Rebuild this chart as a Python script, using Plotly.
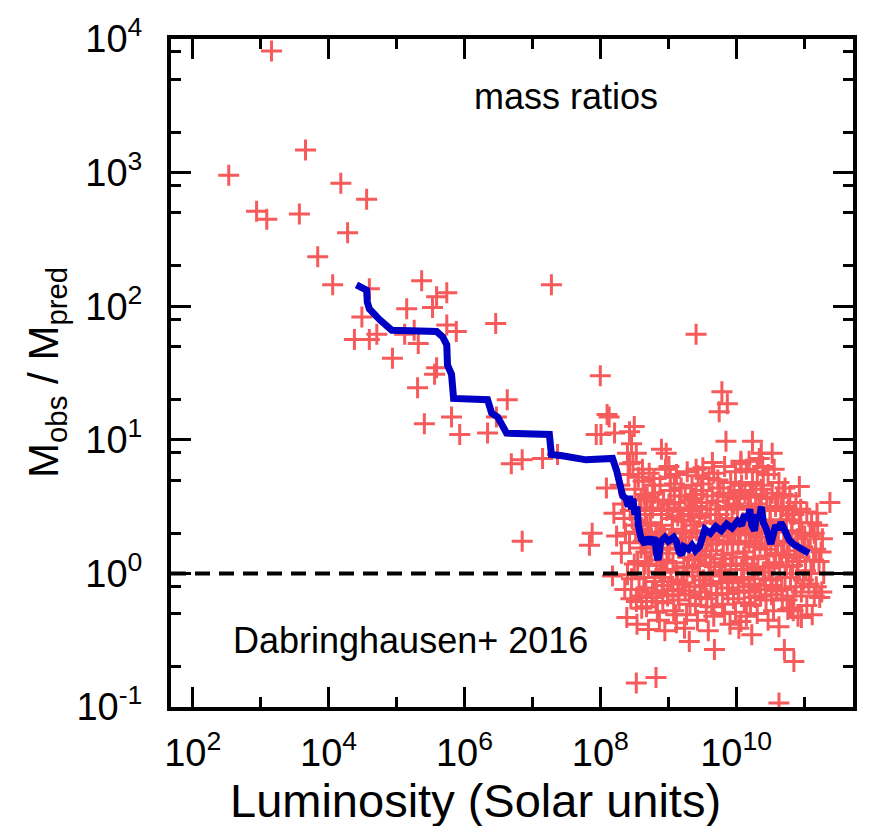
import numpy as np
import plotly.graph_objects as go

# Individual systems outside the dense galaxy cloud: (log10 L, log10 Mobs/Mpred)
sparse_points = [
    (3.16, 3.91), (2.53, 2.98), (3.66, 3.17), (4.18, 2.92), (4.56, 2.80),
    (2.94, 2.71), (3.09, 2.65), (3.57, 2.69), (4.28, 2.55), (3.84, 2.37),
    (4.06, 2.16), (5.37, 2.19), (5.74, 2.10), (5.59, 2.07), (7.28, 2.16),
    (4.60, 2.13), (5.15, 1.98), (5.53, 1.99), (4.49, 1.92), (6.46, 1.87),
    (4.71, 1.79), (4.60, 1.75), (4.38, 1.75), (5.12, 1.79), (5.26, 1.82),
    (5.32, 1.72), (5.74, 1.86), (5.88, 1.81), (4.94, 1.61), (5.59, 1.54),
    (5.56, 1.49), (5.31, 1.39), (6.63, 1.30), (5.81, 1.17), (5.41, 1.12),
    (5.93, 1.04), (6.34, 1.05), (6.47, 1.17), (6.69, 0.82), (6.85, 0.85),
    (7.15, 0.86), (7.37, 0.89), (6.85, 0.24), (7.84, 0.21), (7.88, 0.30),
    (7.94, 1.04), (8.00, 1.48), (9.41, 1.79), (8.10, 1.19), (8.09, 0.64),
    (8.53, -0.82), (8.82, -0.78), (10.63, -0.97), (10.71, -0.57), (10.85, -0.66),
    (9.68, -0.57), (9.31, -0.51), (9.12, -0.37), (9.79, 1.36), (9.87, 1.27),
    (9.75, 1.21), (9.85, 0.99), (10.24, 0.99), (10.37, 0.90), (10.53, 0.90),
    (10.93, 0.65), (11.38, 0.53), (8.13, 1.17), (8.21, 1.05), (8.01, 1.04),
    (8.50, 1.10), (8.43, 1.06), (8.46, 0.97), (8.40, 0.90), (8.53, 0.90),
    (8.90, 0.93), (8.97, 0.90), (10.07, 0.84), (10.19, 0.84), (10.34, 0.86),
    (9.65, 0.83), (9.41, 0.78), (9.01, 0.80), (8.62, 0.78), (8.43, 0.82),
    (10.07, -0.36), (10.04, -0.41), (10.96, -0.33), (10.80, -0.26),
    (8.20, 0.45), (8.24, 0.28), (8.18, -0.02), (11.19, 0.45), (11.15, 0.30),
]

# Dense cloud of galaxies between 10^8 and 10^11.4 L_sun
cloud_points = [
    (8.29, 0.66), (8.35, 0.41), (8.31, 0.15), (8.36, -0.12), (8.33, 0.52),
    (8.41, 0.74), (8.44, 0.47), (8.37, 0.30), (8.43, 0.23), (8.40, -0.01), (8.45, -0.19), (8.39, -0.33),
    (8.48, 0.83), (8.51, 0.63), (8.47, 0.41), (8.52, 0.31), (8.50, 0.07), (8.46, -0.04), (8.53, -0.21),
    (8.56, 0.72), (8.58, 0.49), (8.54, 0.36), (8.60, 0.19), (8.55, 0.09), (8.57, -0.12), (8.61, -0.26), (8.54, -0.38),
    (8.63, 0.69), (8.66, 0.44), (8.62, 0.33), (8.67, 0.16), (8.64, -0.03), (8.61, -0.17), (8.68, -0.25), (8.65, 0.59), (8.63, 0.24),
    (8.72, 0.75), (8.69, 0.57), (8.74, 0.38), (8.70, 0.29), (8.75, 0.15), (8.71, 0.06), (8.67, -0.11), (8.76, -0.18), (8.71, -0.42),
    (8.80, 0.60), (8.77, 0.49), (8.82, 0.31), (8.78, 0.22), (8.83, 0.06), (8.80, -0.06), (8.77, -0.14), (8.84, -0.29), (8.79, 0.71),
    (8.88, 0.66), (8.85, 0.54), (8.90, 0.36), (8.86, 0.27), (8.91, 0.10), (8.88, 0.01), (8.83, -0.15), (8.92, -0.22), (8.87, -0.35),
    (8.96, 0.78), (8.93, 0.55), (8.98, 0.47), (8.94, 0.29), (8.99, 0.18), (8.95, 0.03), (8.91, -0.09), (8.99, -0.17), (8.95, -0.43),
    (9.03, 0.62), (9.01, 0.52), (9.06, 0.33), (9.02, 0.24), (9.07, 0.08), (9.04, -0.06), (8.99, -0.13), (9.08, -0.28), (9.03, 0.72),
    (9.12, 0.74), (9.09, 0.53), (9.14, 0.43), (9.10, 0.26), (9.15, 0.19), (9.12, 0.01), (9.07, -0.12), (9.16, -0.20), (9.11, -0.31),
    (9.19, 0.64), (9.17, 0.49), (9.22, 0.31), (9.18, 0.22), (9.23, 0.05), (9.20, -0.08), (9.15, -0.16), (9.24, -0.41), (9.20, 0.40),
    (9.28, 0.76), (9.25, 0.58), (9.30, 0.47), (9.26, 0.30), (9.31, 0.21), (9.28, 0.04), (9.23, -0.07), (9.32, -0.23), (9.27, -0.31),
    (9.35, 0.66), (9.33, 0.55), (9.38, 0.36), (9.34, 0.27), (9.39, 0.10), (9.36, 0.01), (9.31, -0.16), (9.40, -0.24), (9.36, 0.47),
    (9.44, 0.73), (9.41, 0.59), (9.46, 0.42), (9.42, 0.32), (9.47, 0.14), (9.44, 0.06), (9.39, -0.10), (9.48, -0.18), (9.43, -0.35),
    (9.51, 0.67), (9.49, 0.48), (9.54, 0.38), (9.50, 0.21), (9.55, 0.12), (9.52, -0.05), (9.47, -0.14), (9.56, -0.29), (9.51, 0.79),
    (9.60, 0.71), (9.57, 0.53), (9.62, 0.44), (9.58, 0.26), (9.63, 0.17), (9.60, 0.00), (9.55, -0.09), (9.64, -0.25), (9.59, -0.43),
    (9.67, 0.75), (9.65, 0.58), (9.70, 0.48), (9.66, 0.31), (9.71, 0.22), (9.68, 0.05), (9.63, -0.08), (9.72, -0.16), (9.67, -0.32),
    (9.76, 0.64), (9.73, 0.54), (9.78, 0.37), (9.74, 0.28), (9.79, 0.11), (9.76, 0.02), (9.71, -0.15), (9.80, -0.23), (9.75, 0.44),
    (9.83, 0.80), (9.81, 0.60), (9.86, 0.50), (9.82, 0.33), (9.87, 0.24), (9.84, 0.07), (9.79, -0.06), (9.88, -0.15), (9.83, -0.30),
    (9.92, 0.68), (9.89, 0.58), (9.94, 0.41), (9.90, 0.32), (9.95, 0.15), (9.92, 0.06), (9.87, -0.11), (9.96, -0.19), (9.91, -0.38),
    (9.99, 0.76), (9.97, 0.58), (10.02, 0.48), (9.98, 0.31), (10.03, 0.22), (10.00, 0.06), (9.95, -0.07), (10.04, -0.13), (9.99, -0.29),
    (10.08, 0.66), (10.05, 0.56), (10.10, 0.38), (10.06, 0.29), (10.11, 0.12), (10.08, 0.03), (10.03, -0.14), (10.12, -0.22), (10.07, 0.82),
    (10.15, 0.78), (10.13, 0.60), (10.18, 0.50), (10.14, 0.33), (10.19, 0.24), (10.16, 0.07), (10.11, -0.05), (10.20, -0.14), (10.15, -0.32),
    (10.24, 0.68), (10.21, 0.59), (10.26, 0.42), (10.22, 0.29), (10.27, 0.20), (10.24, 0.03), (10.19, -0.10), (10.28, -0.18), (10.23, -0.46),
    (10.31, 0.76), (10.29, 0.58), (10.34, 0.48), (10.30, 0.31), (10.35, 0.22), (10.32, 0.05), (10.27, -0.08), (10.36, -0.17), (10.31, -0.30),
    (10.40, 0.66), (10.37, 0.57), (10.42, 0.40), (10.38, 0.27), (10.43, 0.18), (10.40, 0.01), (10.35, -0.12), (10.44, -0.20), (10.39, 0.80),
    (10.47, 0.74), (10.45, 0.56), (10.50, 0.47), (10.46, 0.30), (10.51, 0.21), (10.48, 0.04), (10.43, -0.09), (10.52, -0.16), (10.47, -0.35),
    (10.56, 0.78), (10.53, 0.60), (10.58, 0.50), (10.54, 0.33), (10.59, 0.24), (10.56, 0.08), (10.51, -0.05), (10.60, -0.13), (10.55, -0.28),
    (10.63, 0.68), (10.61, 0.57), (10.66, 0.40), (10.62, 0.31), (10.67, 0.14), (10.64, 0.06), (10.59, -0.11), (10.68, -0.19), (10.63, -0.40),
    (10.72, 0.64), (10.69, 0.50), (10.74, 0.40), (10.70, 0.23), (10.75, 0.14), (10.72, -0.03), (10.67, -0.12), (10.76, -0.27),
    (10.79, 0.58), (10.77, 0.48), (10.82, 0.32), (10.78, 0.23), (10.83, 0.06), (10.80, -0.03), (10.75, -0.20), (10.84, -0.28),
    (10.88, 0.53), (10.85, 0.44), (10.90, 0.26), (10.86, 0.17), (10.91, 0.00), (10.88, -0.10), (10.83, -0.26),
    (10.95, 0.48), (10.93, 0.38), (10.98, 0.20), (10.94, 0.12), (10.99, -0.05), (10.96, -0.14), (10.91, -0.32),
    (11.04, 0.46), (11.01, 0.28), (11.06, 0.18), (11.02, 0.02), (11.07, -0.08), (11.04, -0.24),
    (11.11, 0.38), (11.09, 0.28), (11.14, 0.10), (11.10, 0.00), (11.15, -0.17), (11.12, -0.31),
    (11.20, 0.36), (11.17, 0.18), (11.22, 0.09), (11.18, -0.10), (11.23, -0.18),
    (11.27, 0.26), (11.25, 0.16), (11.29, 0.00), (11.26, -0.14),
    (8.58, 0.30), (8.74, 0.47), (8.90, 0.44), (9.06, 0.41), (9.22, 0.39), (9.38, 0.56),
    (9.54, 0.30), (9.70, 0.39), (9.86, 0.41), (10.02, 0.39), (10.18, 0.41), (10.34, 0.39),
    (10.50, 0.38), (10.66, 0.48), (10.82, 0.40), (8.66, 0.07), (8.98, 0.09), (9.30, 0.12),
    (9.62, 0.08), (9.94, 0.23), (10.26, 0.11), (10.58, 0.15), (10.90, 0.09), (8.82, -0.21),
    (9.14, -0.05), (9.46, -0.02), (9.78, -0.02), (10.10, -0.03), (10.42, -0.04), (10.74, 0.05),
    (8.69, 0.36), (8.85, 0.19), (9.01, 0.15), (9.17, 0.58), (9.33, 0.44), (9.49, 0.62),
    (9.65, 0.25), (9.81, 0.14), (9.97, 0.52), (10.13, 0.16), (10.29, 0.52), (10.45, 0.13),
    (10.61, 0.23), (10.77, 0.12), (8.77, 0.66), (9.09, 0.67), (9.41, 0.50), (9.73, 0.70),
    (10.05, 0.62), (10.37, 0.63), (10.69, 0.59), (8.93, -0.03), (9.25, -0.13), (9.57, -0.19),
    (9.89, -0.04), (10.21, -0.24), (10.53, -0.09), (10.85, -0.17), (8.60, 0.55), (10.97, 0.30),
]

# Running median of the mass ratio along luminosity
median_log_lum = [
    4.41, 4.56, 4.57, 4.60, 4.75, 4.93, 5.59, 5.68, 5.74, 5.75, 5.81, 5.84,
    6.34, 6.40, 6.49, 6.62, 7.25, 7.28, 7.44, 7.79, 8.18, 8.24, 8.33, 8.38,
    8.41, 8.43, 8.46, 8.48, 8.51, 8.54, 8.56, 8.60, 8.66, 8.70, 8.75, 8.80,
    8.83, 8.85, 8.87, 8.89, 8.95, 9.00, 9.08, 9.12, 9.16, 9.20, 9.23, 9.30,
    9.35, 9.40, 9.46, 9.50, 9.54, 9.62, 9.70, 9.78, 9.86, 9.94, 10.02, 10.08,
    10.12, 10.17, 10.20, 10.23, 10.27, 10.30, 10.34, 10.37, 10.40, 10.44, 10.47,
    10.51, 10.55, 10.58, 10.62, 10.66, 10.70, 10.74, 10.78, 10.84, 10.90, 10.98,
    11.07,
]
median_log_ratio = [
    2.16, 2.12, 2.03, 1.98, 1.90, 1.82, 1.81, 1.77, 1.71, 1.56, 1.49, 1.31,
    1.30, 1.20, 1.17, 1.05, 1.04, 0.89, 0.88, 0.85, 0.86, 0.77, 0.58, 0.56,
    0.50, 0.58, 0.48, 0.56, 0.44, 0.50, 0.36, 0.26, 0.22, 0.27, 0.22, 0.27,
    0.14, 0.10, 0.16, 0.24, 0.27, 0.24, 0.27, 0.24, 0.16, 0.14, 0.20, 0.18,
    0.21, 0.17, 0.20, 0.28, 0.33, 0.30, 0.35, 0.32, 0.37, 0.34, 0.39, 0.36,
    0.44, 0.40, 0.48, 0.36, 0.32, 0.44, 0.40, 0.50, 0.38, 0.34, 0.28,
    0.22, 0.30, 0.36, 0.33, 0.38, 0.34, 0.28, 0.25, 0.22, 0.20, 0.18,
    0.15,
]

x_major = [1e2, 1e4, 1e6, 1e8, 1e10]
x_major_text = ["10<sup>2</sup>", "10<sup>4</sup>", "10<sup>6</sup>", "10<sup>8</sup>", "10<sup>10</sup>"]
x_minor = [1e3, 1e5, 1e7, 1e9, 1e11]
y_major = [0.1, 1, 10, 100, 1000, 10000]
y_major_text = ["10<sup>-1</sup>", "10<sup>0</sup>", "10<sup>1</sup>", "10<sup>2</sup>",
                "10<sup>3</sup>", "10<sup>4</sup>"]
y_minor = [0.2, 0.5, 0.8, 2, 5, 8, 20, 50, 80, 200, 500, 800, 2000, 5000, 8000]

pts = sparse_points + cloud_points
lum = 10 ** np.array([p[0] for p in pts])
ratio = 10 ** np.array([p[1] for p in pts])

FONT = "Liberation Sans, Arial, sans-serif"
RED = "#F65A5A"
BLUE = "#0000C4"

fig = go.Figure()
fig.add_trace(go.Scatter(
    x=lum, y=ratio, mode="markers",
    marker=dict(symbol="cross-thin", size=15, line=dict(color=RED, width=3)),
    showlegend=False, hoverinfo="skip",
))
fig.add_trace(go.Scatter(
    x=[10 ** 1.68, 10 ** 11.72], y=[1, 1], mode="lines",
    line=dict(color="black", width=4, dash="15px,9px"),
    showlegend=False, hoverinfo="skip",
))
fig.add_trace(go.Scatter(
    x=10 ** np.array(median_log_lum), y=10 ** np.array(median_log_ratio),
    mode="lines", line=dict(color=BLUE, width=7),
    showlegend=False, hoverinfo="skip",
))

axis_common = dict(
    showgrid=False, zeroline=False, showline=True, linecolor="black", linewidth=4,
    mirror="allticks", ticks="inside", ticklen=20, tickwidth=3, tickcolor="black",
    tickfont=dict(family=FONT, size=38, color="black"),
)

fig.update_xaxes(
    type="log", range=[1.68, 11.72], tickmode="array",
    tickvals=x_major, ticktext=x_major_text, ticklabelstandoff=9,
    minor=dict(tickmode="array", tickvals=x_minor, ticks="inside", ticklen=10,
               tickwidth=3, tickcolor="black", showgrid=False),
    **axis_common,
)
fig.update_yaxes(
    type="log", range=[-1, 4], tickmode="array",
    tickvals=y_major, ticktext=y_major_text, ticklabelstandoff=17,
    minor=dict(tickmode="array", tickvals=y_minor, ticks="inside", ticklen=10,
               tickwidth=3, tickcolor="black", showgrid=False),
    **axis_common,
)

fig.add_annotation(
    text="mass ratios", xref="paper", yref="paper",
    x=(566 - 171) / 682, y=(707 - 92) / 673, showarrow=False,
    xanchor="center", yanchor="middle",
    font=dict(family=FONT, size=36, color="black"),
)
fig.add_annotation(
    text="Dabringhausen+ 2016", xref="paper", yref="paper",
    x=(410 - 171) / 682, y=(707 - 640) / 673, showarrow=False,
    xanchor="center", yanchor="middle",
    font=dict(family=FONT, size=36, color="black"),
)
fig.add_annotation(
    text="Luminosity (Solar units)", xref="paper", yref="paper",
    x=(475 - 171) / 682, y=(707 - 801) / 673, showarrow=False,
    xanchor="center", yanchor="middle",
    font=dict(family=FONT, size=47, color="black"),
)
fig.add_annotation(
    text="M<sub>obs</sub> / M<sub>pred</sub>", xref="paper", yref="paper",
    x=(46 - 171) / 682, y=0.5, showarrow=False, textangle=-90,
    xanchor="center", yanchor="middle",
    font=dict(family=FONT, size=42, color="black"),
)

fig.update_layout(
    width=871, height=826, autosize=False,
    margin=dict(l=171, r=18, t=34, b=119),
    paper_bgcolor="white", plot_bgcolor="white",
)

fig.write_html("out.html")
